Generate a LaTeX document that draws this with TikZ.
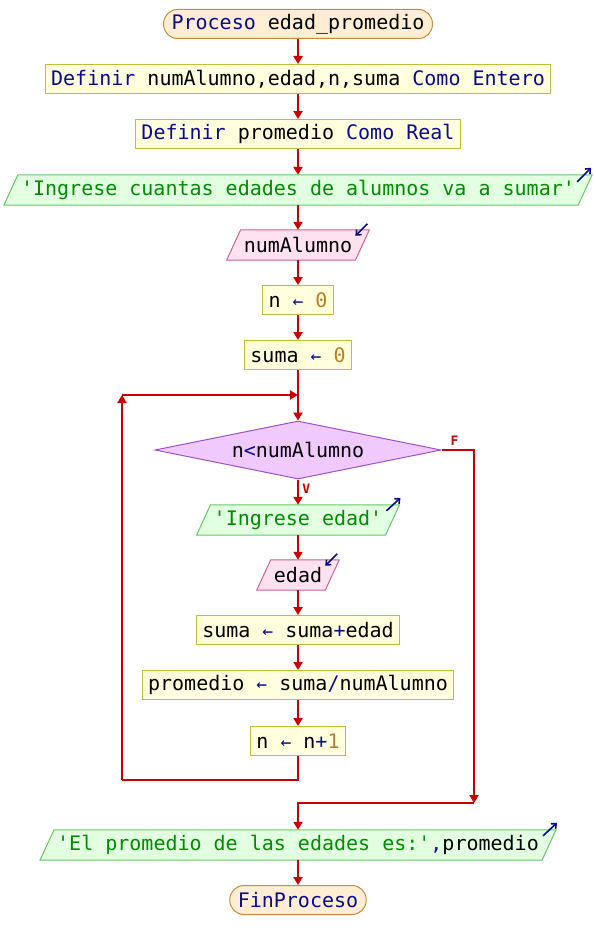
\documentclass[tikz,border=0pt]{standalone}
\usepackage{xcolor}
\usepackage{fontspec}
\usepackage{tikz}
\usetikzlibrary{shapes.geometric, arrows.meta, positioning}
\newfontfamily\pseint{DejaVu Sans Mono}
\definecolor{kwblue}{RGB}{10, 10, 140}
\definecolor{strgreen}{RGB}{0, 140, 0}
\definecolor{nrobrown}{RGB}{185, 125, 40}
\definecolor{flowred}{RGB}{200, 0, 0}
\definecolor{termfill}{RGB}{255, 238, 212}
\definecolor{termdraw}{RGB}{200, 140, 60}
\definecolor{procfill}{RGB}{255, 255, 222}
\definecolor{procdraw}{RGB}{190, 190, 60}
\definecolor{outfill}{RGB}{226, 255, 226}
\definecolor{outdraw}{RGB}{100, 200, 100}
\definecolor{infill}{RGB}{255, 226, 240}
\definecolor{indraw}{RGB}{200, 100, 150}
\definecolor{condfill}{RGB}{240, 202, 255}
\definecolor{conddraw}{RGB}{160, 80, 200}
\newcommand{\kw}[1]{\textcolor{kwblue}{#1}}
\newcommand{\cad}[1]{\textcolor{strgreen}{#1}}
\newcommand{\nro}[1]{\textcolor{nrobrown}{#1}}
\newcommand{\asig}{\textcolor{kwblue}{\scalebox{0.9}{←}}}
% parallelogram drawn behind a node: name, fill, border
\newcommand{\paralelo}[3]{\path [fill=#2, draw=#3, line width=1pt] ([xshift=-7pt]#1.south west) -- ([xshift=-7pt]#1.south east) -- ([xshift=7pt]#1.north east) -- ([xshift=7pt]#1.north west) -- cycle;}
\pgfdeclarelayer{fondo}
\pgfsetlayers{fondo,main}

\begin{document}
\begin{tikzpicture}[x=1pt, y=-1pt, font=\pseint\fontsize{20}{24}\selectfont]
  \tikzstyle{terminal} = [rectangle, rounded corners=14pt, minimum height=29pt, inner xsep=8pt, inner ysep=0pt, fill=termfill, draw=termdraw, line width=1pt]
  \tikzstyle{proceso} = [rectangle, minimum height=29pt, inner xsep=6pt, inner ysep=0pt, fill=procfill, draw=procdraw, line width=1pt]
  \tikzstyle{es} = [rectangle, minimum height=30pt, inner xsep=10pt, inner ysep=0pt]
  \tikzstyle{decision} = [diamond, aspect=5, minimum width=286pt, minimum height=58pt, inner sep=0pt, fill=condfill, draw=conddraw, line width=1pt]
  \tikzstyle{arrow} = [line width=2pt, draw=flowred, -{Triangle[length=8pt, width=9pt]}]
  \tikzstyle{line} = [line width=2pt, draw=flowred]
  \tikzstyle{icono} = [line width=1.6pt, draw=kwblue, -{Straight Barb[length=4pt, width=7pt]}]
  \tikzstyle{etiq} = [text=flowred, font=\pseint\bfseries\fontsize{13}{15}\selectfont]

  \useasboundingbox (0,0) rectangle (596,950);

  \node (inicio) [terminal] at (298,24) {\kw{Proceso} edad\_promedio};
  \node (def1) [proceso] at (298,79) {\kw{Definir} numAlumno,edad,n,suma \kw{Como} \kw{Entero}};
  \node (def2) [proceso] at (298,134) {\kw{Definir} promedio \kw{Como} \kw{Real}};
  \node (msg1) [es] at (298,190) {\cad{'Ingrese cuantas edades de alumnos va a sumar'}};
  \node (leernum) [es] at (298,245) {numAlumno};
  \node (ncero) [proceso] at (298,300) {n \asig{} \nro{0}};
  \node (scero) [proceso] at (298,355) {suma \asig{} \nro{0}};
  \node (cond) [decision] at (298,450) {n\kw{<}numAlumno};
  \node (msg2) [es] at (298,520) {\cad{'Ingrese edad'}};
  \node (leeredad) [es] at (298,575) {edad};
  \node (acum) [proceso] at (298,630) {suma \asig{} suma\kw{+}edad};
  \node (prom) [proceso] at (298,685) {promedio \asig{} suma\kw{/}numAlumno};
  \node (incr) [proceso] at (298,741) {n \asig{} n\kw{+}\nro{1}};
  \node (msg3) [es] at (298,845) {\cad{'El promedio de las edades es:'}\kw{,}promedio};
  \node (fin) [terminal] at (298,900) {\kw{FinProceso}};

  \begin{pgfonlayer}{fondo}
    \paralelo{msg1}{outfill}{outdraw}
    \paralelo{msg2}{outfill}{outdraw}
    \paralelo{msg3}{outfill}{outdraw}
    \paralelo{leernum}{infill}{indraw}
    \paralelo{leeredad}{infill}{indraw}
  \end{pgfonlayer}

  % marcas de lectura / escritura
  \draw [icono] ([xshift=-8pt, yshift=-7pt]msg1.north east) -- ([xshift=6pt, yshift=7pt]msg1.north east);
  \draw [icono] ([xshift=-6pt, yshift=-6pt]msg2.north east) -- ([xshift=8pt, yshift=7pt]msg2.north east);
  \draw [icono] ([xshift=-6pt, yshift=-6pt]msg3.north east) -- ([xshift=8pt, yshift=7pt]msg3.north east);
  \draw [icono] ([xshift=5pt, yshift=6pt]leernum.north east) -- ([xshift=-7pt, yshift=-6pt]leernum.north east);
  \draw [icono] ([xshift=5pt, yshift=6pt]leeredad.north east) -- ([xshift=-7pt, yshift=-6pt]leeredad.north east);

  \coordinate (retorno) at (122,780);
  \coordinate (reentrada) at (298,395);
  \coordinate (finciclo) at (474,803);

  \draw [arrow] (inicio) -- (def1);
  \draw [arrow] (def1) -- (def2);
  \draw [arrow] (def2) -- (msg1);
  \draw [arrow] (msg1) -- (leernum);
  \draw [arrow] (leernum) -- (ncero);
  \draw [arrow] (ncero) -- (scero);
  \draw [arrow] (scero) -- (cond);
  \draw [arrow] (cond) -- node [etiq, right, pos=0.35] {V} (msg2);
  \draw [arrow] (msg2) -- (leeredad);
  \draw [arrow] (leeredad) -- (acum);
  \draw [arrow] (acum) -- (prom);
  \draw [arrow] (prom) -- (incr);

  % vuelta del ciclo
  \draw [line] (incr.south) |- (retorno);
  \draw [arrow] (retorno) -- (retorno |- reentrada);
  \draw [arrow] (retorno |- reentrada) -- (reentrada);

  % salida del ciclo
  \draw [arrow] (cond.east) -| node [etiq, above, pos=0.2] {F} (finciclo);
  \draw [arrow] (finciclo) -- (finciclo -| msg3) -- (msg3);
  \draw [arrow] (msg3) -- (fin);
\end{tikzpicture}
\end{document}
